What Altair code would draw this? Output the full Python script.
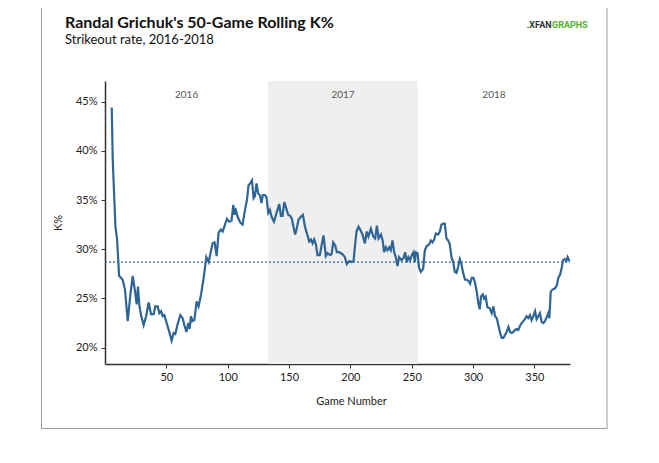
import altair as alt
import pandas as pd

chart_title = "Randal Grichuk's 50-Game Rolling K%"
chart_subtitle = "Strikeout rate, 2016-2018"

games = [5.5, 6.3, 8.5, 9.8, 11.5, 14.4, 16.3, 18.5, 20.7, 22.6, 24.5, 25.8, 26.9, 28, 29.4,
         31.5, 33.5, 35.6, 37.5, 39.7, 41, 42.9, 44.3, 45.7, 47, 48.4, 50.3, 52.4, 54.3, 56,
         57.3, 59.2, 61.4, 63.3, 64.7, 66.3, 67.9, 69, 70.1, 71.2, 72.8, 74.7, 76.3, 78.3, 80.4,
         82.6, 84.5, 87.7, 89.3, 91, 92.6, 94.5, 95.9, 97.8, 99.4, 101.2, 103.1, 104.6, 105.4,
         106.2, 108.1, 110.3, 112.1, 114.1, 115.7, 117, 118.3, 119.8, 121.1, 122.2, 123.5, 124.8,
         126.2, 127.6, 128.6, 130.3, 131.6, 133.1, 134.4, 135.8, 137.7, 139.6, 142, 143.4, 144.7,
         146.1, 147.4, 149.3, 150.9, 152.3, 153.7, 155, 156.3, 157.7, 159.6, 161.3, 163, 164.6,
         166.4, 167.8, 169.2, 170.5, 171.9, 173.2, 175.1, 176.4, 178.1, 180, 181.4, 183.6, 184.7,
         186, 187.6, 189, 190.9, 193.6, 195.5, 197.1, 199, 200.9, 202.6, 203.7, 205, 206.6, 208,
         209.9, 211.8, 213.4, 214.7, 216.7, 218.6, 220.2, 221.6, 223, 224.9, 226.3, 227.5, 228.9,
         230.2, 231.6, 232.9, 234.3, 235.7, 237, 238.4, 239.7, 241.6, 243.3, 244.6, 246, 247.3,
         248.7, 250, 251.4, 252.5, 253.3, 254.7, 256, 257.4, 259.3, 260.7, 262.1, 264.2, 265.6,
         267, 268.3, 269.6, 271.5, 272.9, 274.2, 275.6, 276.9, 278.3, 279.7, 281, 282.4, 283.8,
         285.1, 286.5, 287.8, 289.2, 290.5, 291.9, 293.5, 294.8, 296.2, 297.6, 298.9, 300.3,
         301.6, 303, 304.3, 305.4, 306.5, 307.9, 309, 310.3, 311.7, 313.6, 315.2, 316.6, 317.9,
         319.3, 320.6, 322, 323.4, 324.7, 326.1, 327.4, 328.8, 330.1, 331.5, 332.8, 334.2, 335.5,
         336.9, 338.2, 339.6, 340.9, 342.3, 343.6, 345, 346.4, 347.7, 349.1, 350.5, 351.8, 353.2,
         354.5, 355.9, 357.3, 358.6, 360, 361.3, 362.2, 363.3, 364.7, 366.6, 368.2, 369.5, 370.9,
         372.2, 373.3, 374.7, 376, 377.1, 378.5]

k_pct = [44.4, 39.1, 32.3, 31.1, 27.3, 26.9, 25.9, 22.7, 25.4, 27.3, 25.7, 24.4, 26.2, 24.3, 23.3,
         22.3, 23.2, 24.6, 23.4, 23.4, 24.2, 24.2, 23.5, 23.7, 23.2, 23.3, 22.5, 21.6, 20.7, 21.5,
         21.4, 22.4, 23.3, 23.0, 22.3, 21.6, 22.5, 21.9, 23.2, 22.7, 22.8, 24.7, 24.2, 25.4, 27.1,
         29.2, 28.7, 30.6, 30.7, 29.3, 31.7, 32.0, 31.8, 32.5, 33.1, 32.8, 32.9, 34.5, 33.5,
         34.2, 33.3, 32.7, 32.5, 34.0, 35.0, 36.5, 36.7, 37.0, 35.2, 35.4, 36.7, 35.7,
         35.5, 34.7, 35.5, 35.5, 35.3, 33.7, 34.0, 33.3, 32.8, 33.6, 34.6, 33.4, 33.4,
         34.8, 34.3, 33.5, 33.4, 33.1, 32.2, 31.5, 32.1, 33.0, 33.3, 33.5, 32.3, 31.6,
         30.8, 31.0, 30.6, 31.0, 30.5, 29.4, 29.4, 30.3, 31.4, 29.3, 29.6, 29.4, 29.5,
         30.7, 30.4, 29.7, 29.7, 29.5, 29.2, 28.5, 28.8, 28.7, 28.8, 30.3, 31.8, 32.3, 32.0,
         31.5, 30.6, 31.8, 31.3, 32.1, 31.3, 31.1, 32.4, 31.1, 31.5, 30.9, 29.7, 30.2,
         29.9, 30.2, 29.9, 30.9, 29.7, 29.2, 28.3, 29.2, 28.9, 29.1, 29.7, 28.7, 29.2,
         28.9, 29.4, 29.7, 28.7, 29.7, 29.6, 28.1, 27.7, 28.0, 29.9, 30.3, 30.5, 30.9,
         30.7, 31.0, 31.6, 31.5, 31.8, 32.5, 32.6, 32.6, 31.1, 30.9, 30.5, 29.2, 28.7,
         27.7, 27.6, 28.2, 29.0, 28.5, 27.6, 26.9, 26.9, 26.8, 26.5, 27.1, 27.1,
         26.6, 25.7, 24.5, 23.9, 25.2, 25.4, 25.0, 25.2, 24.1, 24.0, 23.5, 24.2, 23.2,
         23.0, 22.3, 21.5, 21.0, 21.0, 21.3, 21.6, 22.1, 21.6, 21.5, 21.6, 21.8, 21.9,
         21.8, 22.2, 22.5, 22.7, 22.9, 23.2, 23.0, 23.3, 22.8, 23.2, 23.7, 22.9, 23.2,
         23.5, 22.6, 22.5, 22.7, 23.1, 23.5, 23.0, 25.7, 25.9, 26.0, 26.3, 27.1, 27.4,
         28.1, 28.9, 29.0, 28.8, 29.2, 28.8]

assert len(games) == len(k_pct), (len(games), len(k_pct))

mean_k = 28.7
seasons = ["2016", "2017", "2018"]
season_start = [0, 133, 255]
season_end = [133, 255, 379]
season_shaded = [False, True, False]
x_ticks = [50, 100, 150, 200, 250, 300, 350]
y_ticks = [20, 25, 30, 35, 40, 45]

W, H = 465, 283
LINE = "#2e6594"
FONT = "Lato"

df = pd.DataFrame({"game": games, "k": k_pct})
sdf = pd.DataFrame({
    "season": seasons,
    "start": season_start,
    "end": season_end,
    "shaded": season_shaded,
})
sdf["mid"] = (sdf["start"] + sdf["end"]) / 2

xscale = alt.Scale(domain=[0, 379], nice=False, zero=False)
yscale = alt.Scale(domain=[18.34, 47.1], nice=False, zero=False)

x_axis = alt.Axis(
    values=x_ticks, title="Game Number", grid=False,
    domainColor="#333333", domainWidth=1.5, tickColor="#333333", tickSize=4,
    labelFont=FONT, labelFontSize=11, labelColor="#222222", labelPadding=3,
    titleFont=FONT, titleFontSize=11, titleFontWeight="normal", titleColor="#222222",
    titleX=246, titleY=37, titleBaseline="middle", titleAlign="center")

y_axis = alt.Axis(
    values=y_ticks, labelExpr="datum.value + '%'", title="K%", grid=False,
    domainColor="#333333", domainWidth=1.5, tickColor="#333333", tickSize=4,
    labelFont=FONT, labelFontSize=11, labelColor="#222222", labelPadding=4,
    titleFont=FONT, titleFontSize=11, titleFontWeight="normal", titleColor="#222222",
    titleX=-47, titleY=H / 2, titleBaseline="middle", titleAlign="center")

bands = alt.Chart(sdf).transform_filter("datum.shaded").mark_rect(color="#efefef").encode(
    x=alt.X("start:Q", scale=xscale, axis=x_axis),
    x2="end:Q",
    y=alt.value(0),
    y2=alt.value(H),
)

band_labels = alt.Chart(sdf).mark_text(
    font=FONT, fontSize=10, color="#555555", baseline="middle", align="center"
).encode(
    x=alt.X("mid:Q", scale=xscale, axis=x_axis),
    y=alt.value(13.5),
    text="season:N",
)

mean_rule = alt.Chart(pd.DataFrame({"mean": [mean_k]})).mark_rule(
    color=LINE, strokeWidth=1.3, strokeDash=[2, 2]
).encode(
    y=alt.Y("mean:Q", scale=yscale, axis=y_axis),
    x=alt.value(0),
    x2=alt.value(W),
)

line = alt.Chart(df).mark_line(color=LINE, strokeWidth=2.2).encode(
    x=alt.X("game:Q", scale=xscale, axis=x_axis),
    y=alt.Y("k:Q", scale=yscale, axis=y_axis),
)

one = pd.DataFrame({"a": [0]})

frame = alt.Chart(one).mark_rect(fill="transparent", stroke="#9a9a9a", strokeWidth=1).encode(
    x=alt.value(-63.5), x2=alt.value(502), y=alt.value(-100), y2=alt.value(347.5)
)

title_mark = alt.Chart(one).mark_text(
    text=chart_title, font=FONT, fontSize=16, fontWeight="bold", color="#111111",
    align="left", baseline="alphabetic"
).encode(x=alt.value(-40), y=alt.value(-53.3))

subtitle_mark = alt.Chart(one).mark_text(
    text=chart_subtitle, font=FONT, fontSize=13, color="#111111",
    align="left", baseline="alphabetic"
).encode(x=alt.value(-40), y=alt.value(-36.7))

logo_fan = alt.Chart(one).mark_text(
    text="FAN", font="Roboto", fontSize=9, fontWeight="bold", color="#333333",
    align="left", baseline="middle"
).encode(x=alt.value(430), y=alt.value(-56))

logo_graphs = alt.Chart(one).mark_text(
    text="GRAPHS", font="Roboto", fontSize=9, fontWeight="bold", color="#50b030",
    align="left", baseline="middle"
).encode(x=alt.value(447), y=alt.value(-56))

logo_icon = alt.Chart(one).mark_text(
    text=".X", font="Roboto", fontSize=9, fontWeight="bold", color="#2f4a2a",
    align="right", baseline="middle"
).encode(x=alt.value(430), y=alt.value(-56))

chart = alt.layer(
    frame, bands, band_labels, mean_rule, line,
    title_mark, subtitle_mark, logo_icon, logo_fan, logo_graphs
).properties(
    width=W, height=H,
    autosize="none",
    padding={"left": 97, "top": 73, "right": 44, "bottom": 70},
).configure_view(strokeWidth=0)

chart.save("out.html", embed_options={"renderer": "svg", "actions": False})
